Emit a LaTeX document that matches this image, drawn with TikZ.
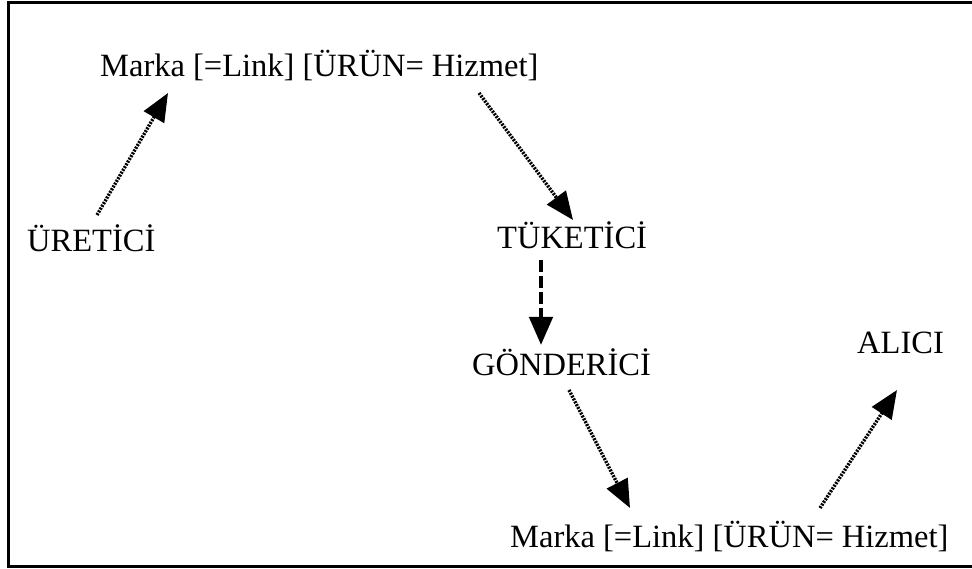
\documentclass[tikz,border=0pt]{standalone}
\usepackage{fontspec}
\setmainfont{Liberation Serif}
\usetikzlibrary{arrows.meta}
\begin{document}
\begin{tikzpicture}[x=1pt,y=-1pt,
  lbl/.style={anchor=base west,inner sep=0pt,font=\fontsize{32.5}{36}\selectfont},
  tip/.style={-{Triangle[length=28pt,width=23pt]}},
  dotarrow/.style={tip,line width=3.4pt,dash pattern=on 2pt off 1.2pt},
  dasharrow/.style={tip,line width=4.5pt,dash pattern=on 12pt off 4pt}]
\useasboundingbox (0,0) rectangle (972,569);
\begin{scope}
\clip (0,0) rectangle (972,569);
\draw[line width=3pt] (8,2.5) rectangle (985,566);
\end{scope}

\node[lbl] (m1)  at (100,77)  {Marka [=Link] [ÜRÜN= Hizmet]};
\node[lbl] (ure) at (27,252)  {ÜRETİCİ};
\node[lbl] (tuk) at (497,249) {TÜKETİCİ};
\node[lbl] (gon) at (472,375) {GÖNDERİCİ};
\node[lbl] (ali) at (857,353) {ALICI};
\node[lbl] (m2)  at (510,547) {Marka [=Link] [ÜRÜN= Hizmet]};

\draw[dotarrow]  ([shift={(70,-37)}]ure.base west) -- ([shift={(68,16)}]m1.base west);
\draw[dotarrow]  ([shift={(379,16)}]m1.base west) -- ([shift={(76,-29)}]tuk.base west);
\draw[dasharrow] ([shift={(44,11)}]tuk.base west) -- ([shift={(69,-30)}]gon.base west);
\draw[dotarrow]  ([shift={(97,15)}]gon.base west) -- ([shift={(120,-39)}]m2.base west);
\draw[dotarrow]  ([shift={(310,-39)}]m2.base west) -- ([shift={(40,37)}]ali.base west);
\end{tikzpicture}
\end{document}
